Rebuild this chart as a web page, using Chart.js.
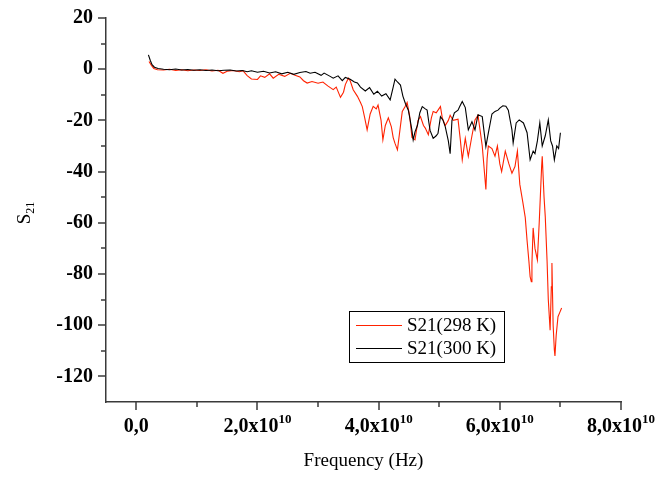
<!DOCTYPE html>
<html><head><meta charset="utf-8">
<script src="https://cdn.jsdelivr.net/npm/chart.js@4"></script>
<style>html,body{margin:0;padding:0;background:#fff}#wrap{width:655px;height:483px;position:relative}</style>
</head><body><div id="wrap"><canvas id="c" width="655" height="483"></canvas></div>
<script>
// Frequencies in units of 1e10 Hz
const freq298 = [0.21,0.25,0.29,0.35,0.45,0.55,0.65,0.75,0.85,0.95,1.05,1.15,1.25,1.35,1.43,1.50,1.60,1.70,1.76,1.83,1.90,2.00,2.05,2.12,2.20,2.26,2.35,2.45,2.54,2.62,2.70,2.76,2.82,2.90,3.00,3.08,3.16,3.25,3.30,3.37,3.42,3.45,3.50,3.53,3.58,3.65,3.70,3.73,3.77,3.81,3.86,3.91,3.96,3.99,4.04,4.07,4.11,4.16,4.21,4.24,4.27,4.31,4.35,4.39,4.44,4.47,4.51,4.55,4.60,4.65,4.69,4.74,4.77,4.82,4.87,4.90,4.95,4.98,5.02,5.05,5.10,5.15,5.18,5.23,5.31,5.35,5.38,5.43,5.48,5.54,5.59,5.64,5.71,5.77,5.79,5.81,5.87,5.92,5.96,6.00,6.03,6.09,6.15,6.20,6.25,6.29,6.33,6.38,6.42,6.45,6.48,6.50,6.52,6.53,6.55,6.58,6.62,6.65,6.69,6.70,6.73,6.75,6.78,6.80,6.83,6.85,6.86,6.88,6.90,6.91,6.93,6.96,6.99,7.02];
const s21_298 = [3.0,1.5,0.3,-0.2,-0.3,0.0,-0.5,-0.2,-0.6,-0.3,-0.5,-0.2,-0.7,-0.4,-1.6,-0.8,-0.5,-1.0,-0.6,-2.5,-3.8,-4.0,-2.6,-3.2,-1.8,-3.5,-2.0,-2.8,-1.6,-2.4,-3.0,-4.5,-5.4,-4.8,-5.5,-5.0,-6.5,-8.0,-7.0,-11.0,-9.0,-6.0,-3.5,-4.5,-8.0,-10.6,-13.0,-14.6,-19.0,-23.7,-17.5,-14.5,-15.5,-14.0,-20.0,-27.6,-22.0,-19.0,-22.5,-26.7,-29.0,-31.5,-24.0,-16.5,-14.5,-13.0,-18.0,-26.7,-27.6,-20.0,-18.5,-22.0,-23.0,-25.6,-19.0,-16.5,-17.0,-16.0,-14.6,-19.0,-22.0,-20.0,-18.0,-20.0,-19.5,-28.0,-35.4,-27.0,-34.0,-26.0,-19.8,-18.0,-30.0,-47.0,-35.0,-30.0,-31.0,-34.0,-30.0,-37.0,-40.0,-32.0,-37.0,-40.6,-38.0,-32.0,-45.0,-52.0,-58.0,-67.0,-75.0,-81.0,-83.0,-75.7,-62.0,-70.0,-74.5,-60.0,-38.0,-34.0,-50.0,-57.6,-75.0,-90.0,-102.0,-85.0,-75.7,-100.0,-109.7,-112.0,-104.0,-96.7,-95.0,-93.3];

const freq300 = [0.20,0.23,0.26,0.30,0.36,0.45,0.55,0.65,0.75,0.85,0.95,1.05,1.15,1.25,1.35,1.45,1.55,1.65,1.75,1.83,1.90,2.00,2.10,2.20,2.30,2.40,2.50,2.60,2.70,2.80,2.87,2.95,3.05,3.10,3.20,3.25,3.33,3.40,3.45,3.53,3.60,3.65,3.70,3.78,3.85,3.92,3.98,4.05,4.12,4.19,4.24,4.27,4.31,4.36,4.40,4.44,4.49,4.52,4.55,4.57,4.60,4.64,4.68,4.72,4.77,4.80,4.83,4.85,4.90,4.95,4.98,5.02,5.06,5.10,5.15,5.18,5.21,5.25,5.31,5.34,5.38,5.43,5.48,5.54,5.59,5.64,5.71,5.77,5.81,5.87,5.92,5.97,6.00,6.05,6.10,6.14,6.20,6.22,6.27,6.32,6.39,6.45,6.50,6.55,6.58,6.62,6.66,6.70,6.75,6.80,6.84,6.87,6.90,6.94,6.97,7.00];
const s21_300 = [5.6,3.5,1.8,0.8,0.3,0.0,-0.2,0.1,-0.3,-0.1,-0.4,-0.2,-0.5,-0.3,-0.6,-0.4,-0.3,-0.7,-0.5,-1.0,-0.6,-1.2,-0.8,-1.5,-1.0,-1.8,-1.2,-2.0,-1.3,-0.9,-1.6,-1.2,-2.4,-1.5,-2.8,-3.5,-2.6,-4.5,-3.2,-3.9,-5.0,-5.4,-7.0,-8.5,-7.2,-9.8,-8.6,-10.5,-9.6,-12.0,-7.0,-3.9,-5.0,-6.2,-10.5,-13.3,-16.0,-19.8,-24.0,-27.6,-24.5,-22.0,-17.0,-14.6,-15.5,-16.0,-21.0,-24.0,-27.0,-26.0,-25.0,-18.5,-19.8,-22.5,-28.0,-33.0,-20.0,-17.0,-16.0,-14.5,-12.6,-15.0,-23.7,-20.5,-23.7,-17.8,-18.5,-30.2,-25.0,-17.5,-16.5,-16.0,-15.2,-14.3,-14.5,-16.0,-23.7,-28.8,-21.0,-19.8,-21.0,-24.8,-35.4,-32.0,-33.0,-28.0,-21.0,-30.0,-26.0,-19.8,-28.0,-30.0,-35.4,-30.0,-31.0,-24.8];

const seriesLabels = ['S21(298 K)', 'S21(300 K)'];
const seriesColors = ['#ff2200', '#000000'];
const xMajorTicks = [0, 2e10, 4e10, 6e10, 8e10];
const xMajorLabels = ['0,0', '2,0x10', '4,0x10', '6,0x10', '8,0x10'];
const xLabelExp = ['', '10', '10', '10', '10'];
const xMinorTicks = [1e10, 3e10, 5e10, 7e10];
const yMajorTicks = [20, 0, -20, -40, -60, -80, -100, -120];
const yMinorTicks = [10, -10, -30, -50, -70, -90, -110];

const SERIF = '"Liberation Serif", "Times New Roman", serif';
const AX = '#3a3a3a';

const decor = {
  id: 'decor',
  afterDraw(chart) {
    const ctx = chart.ctx;
    const xs = chart.scales.x, ys = chart.scales.y;
    const ca = chart.chartArea;
    ctx.save();
    ctx.strokeStyle = AX; ctx.lineWidth = 1.5;
    yMajorTicks.forEach(v => { const p = Math.round(ys.getPixelForValue(v)); ctx.beginPath(); ctx.moveTo(ca.left - 8, p); ctx.lineTo(ca.left, p); ctx.stroke(); });
    yMinorTicks.forEach(v => { const p = Math.round(ys.getPixelForValue(v)); ctx.beginPath(); ctx.moveTo(ca.left - 5, p); ctx.lineTo(ca.left, p); ctx.stroke(); });
    xMajorTicks.forEach(v => { const p = Math.round(xs.getPixelForValue(v)); ctx.beginPath(); ctx.moveTo(p, ca.bottom); ctx.lineTo(p, ca.bottom + 8); ctx.stroke(); });
    xMinorTicks.forEach(v => { const p = Math.round(xs.getPixelForValue(v)); ctx.beginPath(); ctx.moveTo(p, ca.bottom); ctx.lineTo(p, ca.bottom + 5); ctx.stroke(); });
    ctx.fillStyle = '#000';
    ctx.font = 'bold 20px ' + SERIF;
    ctx.textAlign = 'right'; ctx.textBaseline = 'middle';
    yMajorTicks.forEach(v => { ctx.fillText(String(v), ca.left - 13, ys.getPixelForValue(v)); });
    ctx.textBaseline = 'alphabetic'; ctx.textAlign = 'left';
    const mainFont = 'bold 20px ' + SERIF, supFont = 'bold 13px ' + SERIF;
    xMajorTicks.forEach((v, i) => {
      const px = xs.getPixelForValue(v);
      ctx.font = mainFont; const w1 = ctx.measureText(xMajorLabels[i]).width;
      ctx.font = supFont; const w2 = xLabelExp[i] ? ctx.measureText(xLabelExp[i]).width : 0;
      const sx = px - (w1 + w2) / 2;
      ctx.font = mainFont; ctx.fillText(xMajorLabels[i], sx, ca.bottom + 30);
      if (xLabelExp[i]) { ctx.font = supFont; ctx.fillText(xLabelExp[i], sx + w1, ca.bottom + 21); }
    });
    ctx.font = '19px ' + SERIF; ctx.textAlign = 'center';
    ctx.fillText('Frequency (Hz)', (ca.left + ca.right) / 2, 466);
    ctx.save();
    ctx.translate(30, 213); ctx.rotate(-Math.PI / 2);
    ctx.font = '19px ' + SERIF; const ws = ctx.measureText('S').width;
    ctx.font = '12px ' + SERIF; const wsub = ctx.measureText('21').width;
    const st = -(ws + wsub) / 2;
    ctx.textAlign = 'left';
    ctx.font = '19px ' + SERIF; ctx.fillText('S', st, 0);
    ctx.font = '12px ' + SERIF; ctx.fillText('21', st + ws, 4);
    ctx.restore();
    ctx.strokeStyle = '#000'; ctx.lineWidth = 1;
    ctx.strokeRect(349.5, 311.5, 155, 51);
    ctx.font = '19px ' + SERIF; ctx.textAlign = 'left'; ctx.textBaseline = 'middle';
    [325, 348].forEach((ly, i) => {
      ctx.strokeStyle = seriesColors[i]; ctx.lineWidth = 1;
      ctx.beginPath(); ctx.moveTo(356, ly + 0.5); ctx.lineTo(402, ly + 0.5); ctx.stroke();
      ctx.fillStyle = '#000'; ctx.fillText(seriesLabels[i], 407, ly + 1);
    });
    ctx.restore();
  }
};

new Chart(document.getElementById('c'), {
  type: 'line',
  data: {
    datasets: [
      { label: seriesLabels[0], data: freq298.map((f, i) => ({ x: f * 1e10, y: s21_298[i] })), borderColor: seriesColors[0], borderWidth: 1.1, pointRadius: 0, tension: 0, order: 1 },
      { label: seriesLabels[1], data: freq300.map((f, i) => ({ x: f * 1e10, y: s21_300[i] })), borderColor: seriesColors[1], borderWidth: 1.1, pointRadius: 0, tension: 0, order: 0 }
    ]
  },
  options: {
    responsive: false, animation: false, devicePixelRatio: 1,
    layout: { padding: { left: 106, right: 34, top: 18, bottom: 81 } },
    plugins: { legend: { display: false }, tooltip: { enabled: false } },
    scales: {
      x: { type: 'linear', min: -0.5e10, max: 8e10, grid: { display: false }, ticks: { display: false }, border: { display: true, color: AX, width: 1.5 }, afterFit(s) { s.height = 0; } },
      y: { type: 'linear', min: -130, max: 20, grid: { display: false }, ticks: { display: false }, border: { display: true, color: AX, width: 1.5 }, afterFit(s) { s.width = 0; } }
    }
  },
  plugins: [decor]
});
</script>
</body></html>
